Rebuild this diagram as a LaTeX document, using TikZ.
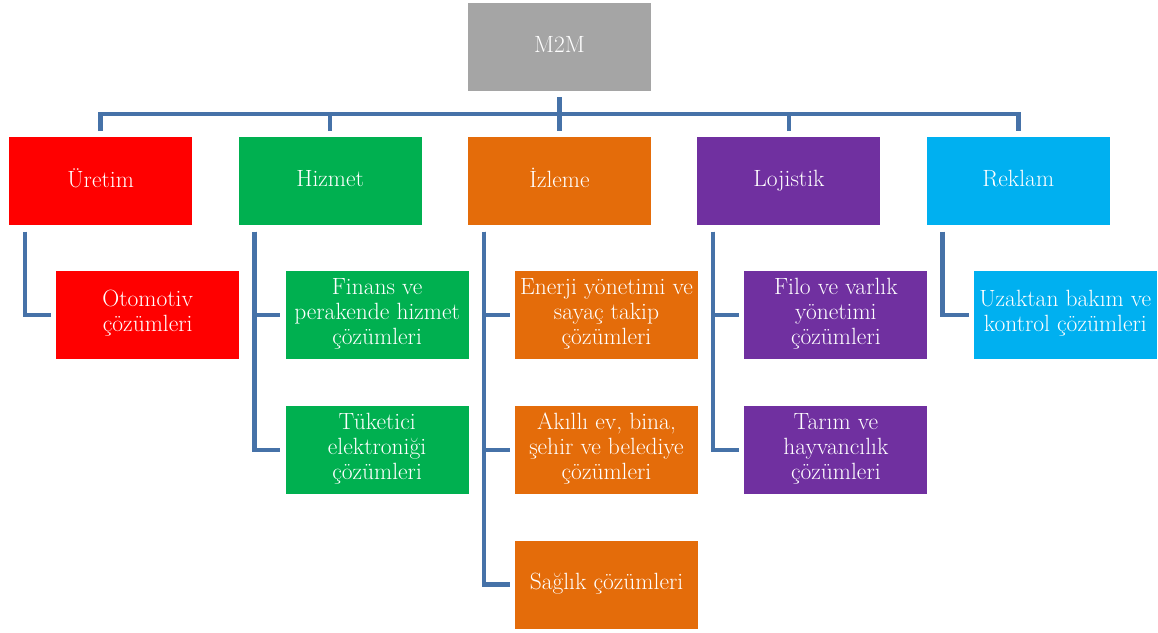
\documentclass[tikz,border=0pt]{standalone}
\usepackage{fontspec}
\usepackage{tikz}
\usetikzlibrary{positioning}
\definecolor{boxgray}{HTML}{A5A5A5}
\definecolor{boxred}{HTML}{FF0000}
\definecolor{boxgreen}{HTML}{00B050}
\definecolor{boxorange}{HTML}{E46C0A}
\definecolor{boxpurple}{HTML}{7030A0}
\definecolor{boxcyan}{HTML}{00B0F0}
\definecolor{linkblue}{HTML}{4672A8}

\begin{document}
\begin{tikzpicture}[
      mybox/.style={
         rectangle,
         draw=none,
         text=white,
         align=center,
         inner sep=0pt,
         minimum width=183pt,
         minimum height=88pt,
         execute at begin node=\strut,
         execute at end node=\strut,
         font=\fontsize{23.5}{25}\selectfont},
      link/.style={draw=linkblue, line width=4.5pt},
      node distance=46pt and 46pt
      ]
      \useasboundingbox (0,0) rectangle (1158pt,-632pt);

      \node[mybox, fill=boxgray] (m2m) at (559.5pt,-47pt) {M2M};

      % first level
      \node[mybox, fill=boxorange, below=46pt of m2m] (izleme) {İzleme};
      \node[mybox, fill=boxgreen, left=of izleme] (hizmet) {Hizmet};
      \node[mybox, fill=boxred, left=of hizmet] (uretim) {Üretim};
      \node[mybox, fill=boxpurple, right=of izleme] (lojistik) {Lojistik};
      \node[mybox, fill=boxcyan, right=of lojistik] (reklam) {Reklam};

      % second level
      \node[mybox, fill=boxred, below right=45pt and 47pt of uretim.south west] (oto) {Otomotiv\\çözümleri};
      \node[mybox, fill=boxgreen, below right=45pt and 47pt of hizmet.south west] (finans) {Finans ve\\perakende hizmet\\çözümleri};
      \node[mybox, fill=boxgreen, below=47pt of finans] (tuketici) {Tüketici\\elektroniği\\çözümleri};
      \node[mybox, fill=boxorange, below right=45pt and 47pt of izleme.south west] (enerji) {Enerji yönetimi ve\\sayaç takip\\çözümleri};
      \node[mybox, fill=boxorange, below=47pt of enerji] (akilli) {Akıllı ev, bina,\\şehir ve belediye\\çözümleri};
      \node[mybox, fill=boxorange, below=46pt of akilli] (saglik) {Sağlık çözümleri};
      \node[mybox, fill=boxpurple, below right=45pt and 47pt of lojistik.south west] (filo) {Filo ve varlık\\yönetimi\\çözümleri};
      \node[mybox, fill=boxpurple, below=47pt of filo] (tarim) {Tarım ve\\hayvancılık\\çözümleri};
      \node[mybox, fill=boxcyan, below right=45pt and 47pt of reklam.south west] (uzaktan) {Uzaktan bakım ve\\kontrol çözümleri};

      % top bar
      \coordinate[above=23pt of izleme.north] (bar);
      \draw[link] ([yshift=-6pt]m2m.south) -- ([yshift=6pt]izleme.north);
      \draw[link] ([yshift=6pt]uretim.north) |- (bar) -| ([yshift=6pt]reklam.north);
      \foreach \n in {hizmet, lojistik}
         \draw[link] ([yshift=6pt]\n.north) -- (\n.north |- bar);

    \foreach \i/\j in {% parent/child
      uretim/oto,
      hizmet/finans,
      hizmet/tuketici,
      izleme/enerji,
      izleme/akilli,
      izleme/saglik,
      lojistik/filo,
      lojistik/tarim,
      reklam/uzaktan}
       \draw [link] ([xshift=16pt,yshift=-6pt]\i.south west) |- ([xshift=-5pt]\j.west);
    \end{tikzpicture}
\end{document}
